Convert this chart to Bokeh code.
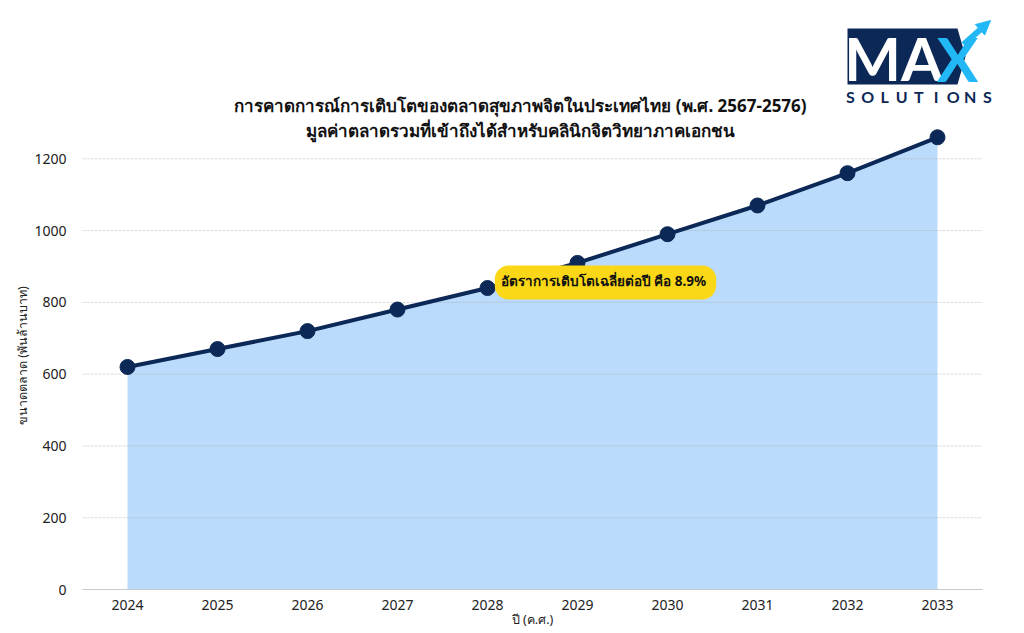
import math
from bokeh.plotting import figure
from bokeh.models import (Range1d, FixedTicker, Label, PolyAnnotation, Arrow,
                          NormalHead, ColumnDataSource)
from bokeh.embed import file_html
from bokeh.resources import INLINE

# ---- data ----
years = [2024, 2025, 2026, 2027, 2028, 2029, 2030, 2031, 2032, 2033]
market_size = [620, 670, 720, 780, 840, 910, 990, 1070, 1160, 1260]
y_ticks = [0, 200, 400, 600, 800, 1000, 1200]
title_line1 = "การคาดการณ์การเติบโตของตลาดสุขภาพจิตในประเทศไทย (พ.ศ. 2567-2576)"
title_line2 = "มูลค่าตลาดรวมที่เข้าถึงได้สำหรับคลินิกจิตวิทยาภาคเอกชน"
annotation_text = "อัตราการเติบโตเฉลี่ยต่อปี คือ 8.9%"
x_label = "ปี (ค.ศ.)"
y_label = "ขนาดตลาด (พันล้านบาท)"

FONT = "Noto Sans"
NAVY = "#0c2856"

W, H = 1024, 633
# chart-area geometry (page px) used to place decorations
FX0, FPX = 82.0, 90.0        # px of left edge of chart area, px per year
FY0, FPY = 589.0, 0.3589     # px of value 0, px per unit


def xd(px):
    return years[0] - 0.5 + (px - FX0) / FPX


def yd(py):
    return (FY0 - py) / FPY


x_lo, x_hi = years[0] - 0.5, years[-1] + 0.5

p = figure(width=W, height=H, output_backend="svg", toolbar_location=None,
           x_range=Range1d(xd(0), xd(W)),
           y_range=Range1d(yd(H), yd(0)),
           min_border_left=0, min_border_right=0, min_border_top=0,
           min_border_bottom=0)
p.outline_line_color = None
p.background_fill_color = "white"
p.xgrid.grid_line_color = None
p.ygrid.grid_line_color = None

src = ColumnDataSource(dict(x=years, y=market_size, z=[0] * len(years)))
p.varea(x="x", y1="z", y2="y", source=src, fill_color="#badbfc", fill_alpha=1.0)
# grid lines across the chart area only
p.segment(x0=[x_lo] * len(y_ticks), x1=[x_hi] * len(y_ticks), y0=y_ticks, y1=y_ticks,
          line_color="#a8a8a8", line_alpha=0.4, line_width=1, line_dash="3 1")
p.segment(x0=[x_lo], x1=[x_hi], y0=[0], y1=[0], line_color="#c8c8c8", line_width=1.2)
p.line(x="x", y="y", source=src, line_color=NAVY, line_width=4)
p.scatter(x="x", y="y", source=src, size=15, fill_color=NAVY, line_color=NAVY)

# axes
p.xaxis.ticker = FixedTicker(ticks=years)
p.yaxis.ticker = FixedTicker(ticks=y_ticks)
p.xaxis.fixed_location = 0
p.yaxis.fixed_location = x_lo
for ax in (p.xaxis, p.yaxis):
    ax.axis_line_color = None
    ax.major_tick_line_color = None
    ax.minor_tick_line_color = None
    ax.major_label_text_font = FONT
    ax.major_label_text_font_size = "14px"
    ax.major_label_text_color = "#222222"
p.xaxis.major_label_standoff = 4
p.yaxis.major_label_standoff = 10

# axis titles
p.add_layout(Label(x=xd(532), y=yd(619), text=x_label, text_align="center",
                   text_baseline="middle", text_font=FONT, text_font_size="12.5px",
                   text_color="#222222"))
p.add_layout(Label(x=xd(22), y=yd(355), text=y_label, text_align="center",
                   text_baseline="middle", text_font=FONT, text_font_size="12.5px",
                   text_color="#222222", angle=math.pi / 2))

# title
p.add_layout(Label(x=xd(520), y=yd(105), text=title_line1, text_align="center",
                   text_baseline="middle", text_font=FONT, text_font_size="17px",
                   text_font_style="bold", text_color="#111111"))
p.add_layout(Label(x=xd(520), y=yd(130), text=title_line2, text_align="center",
                   text_baseline="middle", text_font=FONT, text_font_size="17px",
                   text_font_style="bold", text_color="#111111"))

# growth annotation
p.add_layout(Label(x=xd(605), y=yd(282), text=annotation_text, text_align="center",
                   text_baseline="middle", text_font=FONT, text_font_size="13.5px",
                   text_font_style="bold", text_color="#111111",
                   background_fill_color="#fbd817", border_radius=14,
                   padding=[6, 10, 6, 10]))

# logo
p.add_layout(PolyAnnotation(xs=[xd(847), xd(957), xd(965), xd(957), xd(847)],
                            ys=[yd(28), yd(28), yd(56), yd(84), yd(84)],
                            fill_color=NAVY, fill_alpha=1, line_color=None))
p.add_layout(Label(x=xd(893), y=yd(57), text="MA", text_align="center",
                   text_baseline="middle", text_font="Lato", text_font_size="60px",
                   text_font_style="bold", text_color="white"))
p.add_layout(Label(x=xd(957), y=yd(57), text="X", text_align="center",
                   text_baseline="middle", text_font="Lato", text_font_size="62px",
                   text_font_style="bold", text_color="#22b8f6"))
p.add_layout(Arrow(x_start=xd(963), y_start=yd(44), x_end=xd(990), y_end=yd(20),
                   line_color="#22b8f6", line_width=6,
                   end=NormalHead(size=14, fill_color="#22b8f6", line_color="#22b8f6")))
for i, ch in enumerate("SOLUTIONS"):
    p.add_layout(Label(x=xd(850 + i * 17.1), y=yd(96), text=ch, text_align="center",
                       text_baseline="middle", text_font="Lato",
                       text_font_size="16px", text_font_style="bold",
                       text_color=NAVY))

open("out.html", "w").write(file_html(p, INLINE))
